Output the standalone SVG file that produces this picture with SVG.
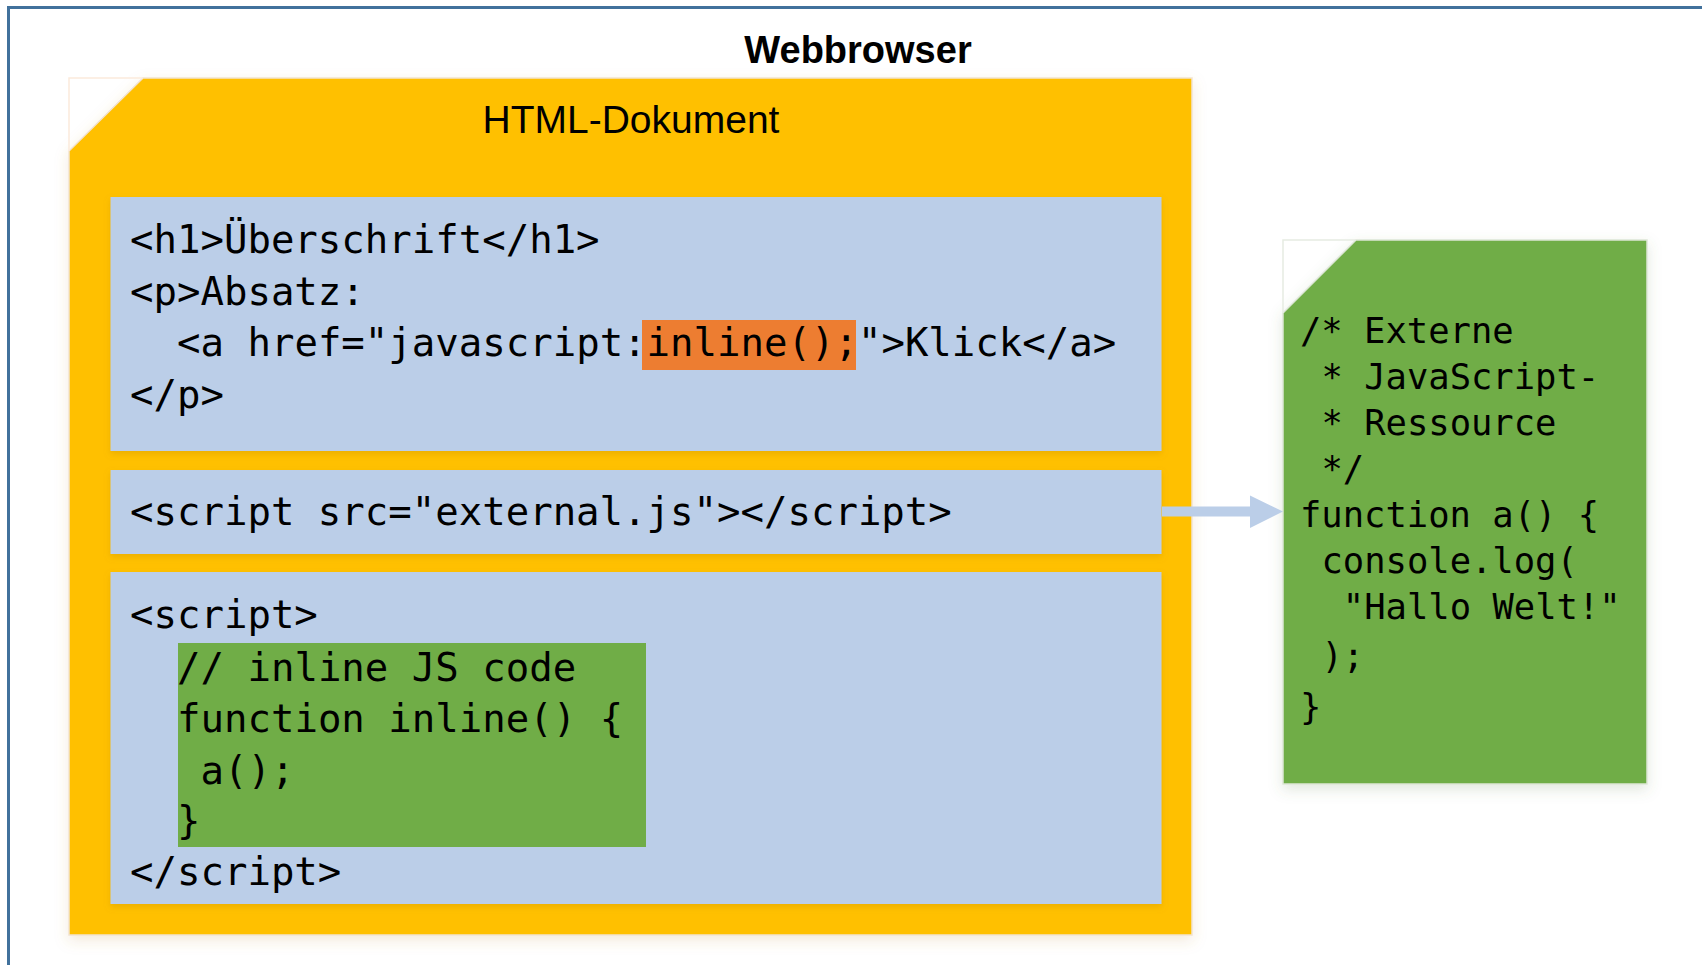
<svg xmlns="http://www.w3.org/2000/svg" width="1702" height="965" viewBox="0 0 1702 965">
  <style>
    .title { font-family: "Liberation Sans", Arial, sans-serif; font-weight: bold; font-size: 38px; fill: #000; }
    .doc-title { font-family: "Liberation Sans", Arial, sans-serif; font-size: 39px; fill: #000; }
    .code { font-family: "DejaVu Sans Mono", "Liberation Mono", monospace; font-size: 39px; fill: #000; }
    .code-ext { font-family: "DejaVu Sans Mono", "Liberation Mono", monospace; font-size: 35.5px; fill: #000; }
    .section { fill: #BBCEE8; }
    .js { fill: #70AD47; }
    .hl { fill: #ED7D31; }
    .fold-edge { fill: none; stroke-width: 1.5; }
  </style>
  <defs>
    <filter id="shadow" x="-10%" y="-10%" width="120%" height="125%">
      <feDropShadow dx="0" dy="5" stdDeviation="7" flood-color="#C08A3A" flood-opacity="0.18"/>
    </filter>
    <filter id="shadow-green" x="-10%" y="-10%" width="125%" height="125%">
      <feDropShadow dx="0" dy="5" stdDeviation="7" flood-color="#5A7A48" flood-opacity="0.18"/>
    </filter>
    <filter id="inner-shadow" x="-5%" y="-5%" width="110%" height="125%">
      <feDropShadow dx="0" dy="3" stdDeviation="3" flood-color="#B07C10" flood-opacity="0.25"/>
    </filter>
  </defs>

  <rect width="1702" height="965" fill="#FFFFFF"/>

  <!-- browser frame -->
  <g id="webbrowser">
    <rect x="8.5" y="7.5" width="1800" height="1000" fill="none" stroke="#41719C" stroke-width="3"/>
    <text class="title" x="858" y="63" text-anchor="middle">Webbrowser</text>
  </g>

  <!-- HTML document with folded corner -->
  <g id="html-dokument">
    <path d="M143,78 H1192 V935 H69 V151 Z" fill="#FFC000" stroke="#F2E3D0" stroke-width="1.5" filter="url(#shadow)"/>
    <path class="fold-edge" d="M143,78 H69 V151" stroke="#FBEADB"/>
    <text class="doc-title" x="631" y="133" text-anchor="middle">HTML-Dokument</text>
  </g>

  <!-- body markup section -->
  <g id="body-markup">
    <rect class="section" x="110.5" y="197" width="1051" height="254" filter="url(#inner-shadow)"/>
    <rect class="hl" x="642" y="320" width="214" height="50"/>
    <text class="code" x="130" y="253">&lt;h1&gt;Überschrift&lt;/h1&gt;</text>
    <text class="code" x="130" y="304.5">&lt;p&gt;Absatz:</text>
    <text class="code" x="177" y="356">&lt;a href="javascript:inline();"&gt;Klick&lt;/a&gt;</text>
    <text class="code" x="130" y="407.5">&lt;/p&gt;</text>
  </g>

  <!-- external script reference -->
  <g id="script-src">
    <rect class="section" x="110.5" y="470" width="1051" height="84" filter="url(#inner-shadow)"/>
    <text class="code" x="130" y="524.5">&lt;script src="external.js"&gt;&lt;/script&gt;</text>
  </g>

  <!-- inline script block -->
  <g id="script-inline">
    <rect class="section" x="110.5" y="572" width="1051" height="332" filter="url(#inner-shadow)"/>
    <rect class="js" x="178" y="643" width="468" height="204"/>
    <text class="code" x="130" y="628">&lt;script&gt;</text>
    <text class="code" x="177" y="681">// inline JS code</text>
    <text class="code" x="177" y="732">function inline() {</text>
    <text class="code" x="200.5" y="783.5">a();</text>
    <text class="code" x="177" y="834">}</text>
    <text class="code" x="130" y="885">&lt;/script&gt;</text>
  </g>

  <!-- external JavaScript file -->
  <g id="external-js">
    <path d="M1356,240 H1647 V784 H1283 V313 Z" class="js" stroke="#DDE6D6" stroke-width="1.5" filter="url(#shadow-green)"/>
    <path class="fold-edge" d="M1356,240 H1283 V313" stroke="#E6ECE2"/>
    <text class="code-ext" x="1300" y="343">/* Externe</text>
    <text class="code-ext" x="1321.4" y="389">* JavaScript-</text>
    <text class="code-ext" x="1321.4" y="435">* Ressource</text>
    <text class="code-ext" x="1321.4" y="481">*/</text>
    <text class="code-ext" x="1300" y="527">function a() {</text>
    <text class="code-ext" x="1321.4" y="573">console.log(</text>
    <text class="code-ext" x="1342.8" y="619">"Hallo Welt!"</text>
    <text class="code-ext" x="1321.4" y="668">);</text>
    <text class="code-ext" x="1300" y="719">}</text>
  </g>

  <!-- connectors -->
  <g id="connectors">
    <path d="M1162,506.5 H1250 V495.5 L1283,511.5 L1250,528 V516.5 H1162 Z" fill="#BBCEE8"/>
  </g>
</svg>
